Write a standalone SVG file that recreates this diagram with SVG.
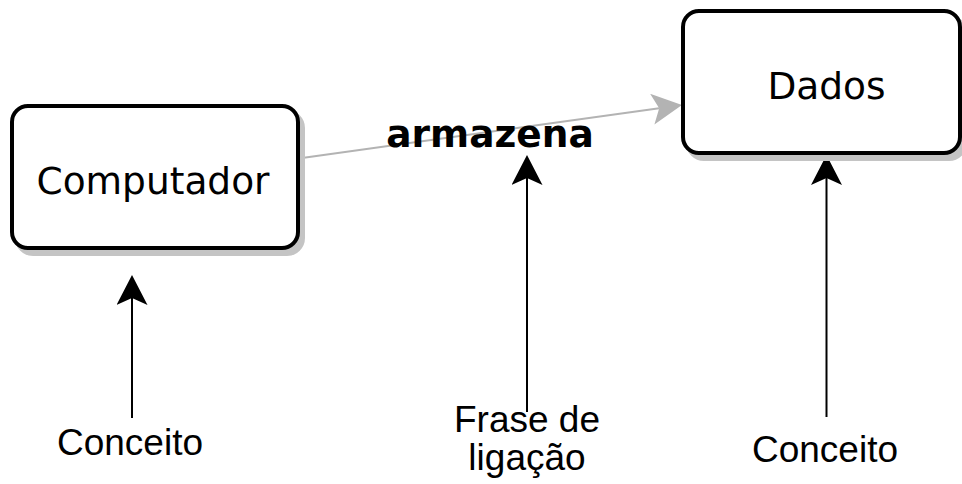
<svg xmlns="http://www.w3.org/2000/svg" width="962" height="484" viewBox="0 0 962 484">
<style>
.box{fill:#ffffff;stroke:#000000;stroke-width:4}
.shadow{fill:#c4c4c4;stroke:#c4c4c4;stroke-width:4}
.ntext{font-family:"DejaVu Sans",sans-serif;font-size:37.5px;fill:#000000;text-anchor:middle}
.link{font-family:"DejaVu Sans",sans-serif;font-size:37.5px;font-weight:bold;fill:#000000;text-anchor:middle}
.lbl{font-family:"Liberation Sans",Arial,sans-serif;font-size:37px;fill:#000000;text-anchor:middle}
.blk{fill:none;stroke:#000000;stroke-width:2}
.gry{fill:none;stroke:#b3b3b3;stroke-width:2}
</style>
<defs>
<marker id="ab" markerUnits="userSpaceOnUse" viewBox="0 0 30 31" markerWidth="30" markerHeight="31" refX="7" refY="15.5" orient="auto">
<path d="M30,15.5 L0,0 L7,15.5 L0,31 Z" fill="#000000"/>
</marker>
<marker id="ag" markerUnits="userSpaceOnUse" viewBox="0 0 30 31" markerWidth="30" markerHeight="31" refX="7" refY="15.5" orient="auto">
<path d="M30,15.5 L0,0 L7,15.5 L0,31 Z" fill="#b3b3b3"/>
</marker>
</defs>
<g id="connectors">
<path class="gry" d="M302,158 L659.2,108.2" marker-end="url(#ag)"/>
<path class="blk" d="M132,418 L132,298" marker-end="url(#ab)"/>
<path class="blk" d="M527,412 L527,178" marker-end="url(#ab)"/>
<path class="blk" d="M826.5,417 L826.5,178" marker-end="url(#ab)"/>
</g>
<g id="computador">
<rect class="shadow" x="17" y="112" width="286" height="142" rx="16"/>
<rect class="box" x="12" y="106" width="286" height="142" rx="16"/>
<text class="ntext" x="153" y="194">Computador</text>
</g>
<g id="dados">
<rect class="shadow" x="688" y="17" width="277" height="142" rx="16"/>
<rect class="box" x="683" y="11" width="277" height="142" rx="16"/>
<text class="ntext" x="826.5" y="99">Dados</text>
</g>
<g id="armazena">
<text class="link" x="490" y="147">armazena</text>
</g>
<g id="label-conceito-1">
<text class="lbl" x="130" y="455">Conceito</text>
</g>
<g id="label-frase">
<text class="lbl" x="527" y="432">Frase de</text>
<text class="lbl" x="527" y="470">ligação</text>
</g>
<g id="label-conceito-2">
<text class="lbl" x="825" y="462">Conceito</text>
</g>
</svg>
